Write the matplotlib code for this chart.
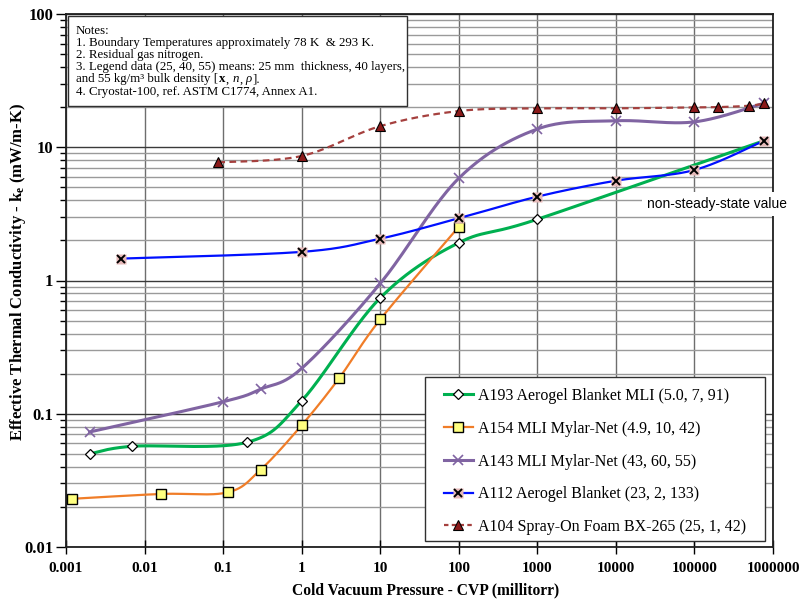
import numpy as np
import matplotlib
matplotlib.use('Agg')
import matplotlib.pyplot as plt
from matplotlib.lines import Line2D
from matplotlib.patches import Rectangle
from matplotlib.ticker import FixedLocator, FixedFormatter, NullFormatter, NullLocator
from matplotlib.legend_handler import HandlerTuple

plt.rcParams['mathtext.fontset'] = 'custom'
plt.rcParams['mathtext.rm'] = 'Liberation Serif'
plt.rcParams['mathtext.it'] = 'Liberation Serif:italic'
plt.rcParams['mathtext.bf'] = 'Liberation Serif:bold'

# ---------------- data ----------------
a193_x = [0.002, 0.007, 0.2, 1, 10, 100, 1000, 770000]
a193_y = [0.050, 0.057, 0.061, 0.125, 0.74, 1.92, 2.88, 11.2]

a154_x = [0.0012, 0.016, 0.114, 0.3, 1, 3, 10, 100]
a154_y = [0.023, 0.025, 0.0257, 0.038, 0.082, 0.185, 0.51, 2.53]

a143_x = [0.002, 0.1, 0.3, 1, 10, 100, 1000, 10000, 100000, 770000]
a143_y = [0.073, 0.123, 0.153, 0.219, 0.95, 5.85, 13.7, 15.8, 15.5, 21.4]

a112_x = [0.005, 1, 10, 100, 1000, 10000, 100000, 770000]
a112_y = [1.46, 1.64, 2.06, 2.93, 4.26, 5.61, 6.75, 11.2]

a104_x = [0.087, 1, 10, 100, 1000, 10000, 100000, 200000, 500000, 770000]
a104_y = [7.7, 8.6, 14.4, 18.7, 19.6, 19.6, 19.9, 20.0, 20.5, 21.3]

labels = ["A193 Aerogel Blanket MLI (5.0, 7, 91)",
          "A154 MLI Mylar-Net (4.9, 10, 42)",
          "A143 MLI Mylar-Net (43, 60, 55)",
          "A112 Aerogel Blanket (23, 2, 133)",
          "A104 Spray-On Foam BX-265 (25, 1, 42)"]

x_ticks = [0.001, 0.01, 0.1, 1, 10, 100, 1000, 10000, 100000, 1000000]
x_ticklabels = ["0.001", "0.01", "0.1", "1", "10", "100", "1000", "10000", "100000", "1000000"]
y_ticks = [0.01, 0.1, 1, 10, 100]
y_ticklabels = ["0.01", "0.1", "1", "10", "100"]

# each note line is a list of (text, weight, style) pieces
notes = [[("Notes:", 'normal', 'normal')],
         [("1. Boundary Temperatures approximately 78 K  & 293 K.", 'normal', 'normal')],
         [("2. Residual gas nitrogen.", 'normal', 'normal')],
         [("3. Legend data (25, 40, 55) means: 25 mm  thickness, 40 layers,", 'normal', 'normal')],
         [("and 55 kg/m³ bulk density [", 'normal', 'normal'), ("x", 'bold', 'normal'),
          (", ", 'normal', 'normal'), ("n", 'normal', 'italic'), (", ", 'normal', 'normal'),
          ("ρ", 'normal', 'italic'), ("].", 'normal', 'normal')],
         [("4. Cryostat-100, ref. ASTM C1774, Annex A1.", 'normal', 'normal')]]


def smooth(xs, ys, n=40):
    """Excel-like smoothed line (cubic Bezier / Catmull-Rom) in log-log space."""
    P = np.column_stack([np.log10(xs), np.log10(ys)])
    out = []
    t = np.linspace(0, 1, n)[:, None]
    for i in range(len(P) - 1):
        p0 = P[i - 1] if i > 0 else P[i]
        p1 = P[i]
        p2 = P[i + 1]
        p3 = P[i + 2] if i + 2 < len(P) else P[i + 1]
        c1 = p1 + (p2 - p0) / 6.0
        c2 = p2 - (p3 - p1) / 6.0
        seg = (1 - t) ** 3 * p1 + 3 * (1 - t) ** 2 * t * c1 + 3 * (1 - t) * t ** 2 * c2 + t ** 3 * p2
        out.append(seg if i == 0 else seg[1:])
    S = np.vstack(out)
    return 10 ** S[:, 0], 10 ** S[:, 1]


fig = plt.figure(figsize=(8.01, 6.0), dpi=100)
ax = fig.add_axes([66 / 801, 1 - 547 / 600, (773 - 66) / 801, (547 - 14) / 600])
ax.set_xscale('log')
ax.set_yscale('log')
ax.set_xlim(0.001, 1000000)
ax.set_ylim(0.01, 100)

# grid
ax.xaxis.set_major_locator(FixedLocator(x_ticks))
ax.xaxis.set_major_formatter(FixedFormatter(x_ticklabels))
ax.xaxis.set_minor_locator(NullLocator())
ax.yaxis.set_major_locator(FixedLocator(y_ticks))
ax.yaxis.set_major_formatter(FixedFormatter(y_ticklabels))
ymin = [m * 10.0 ** e for e in range(-2, 2) for m in range(2, 10)]
ax.yaxis.set_minor_locator(FixedLocator(ymin))
ax.yaxis.set_minor_formatter(NullFormatter())
ax.grid(which='major', axis='x', color='#6e6e6e', lw=1.0, zorder=0)
ax.grid(which='major', axis='y', color='#3a3a3a', lw=1.0, zorder=0)
ax.grid(which='minor', axis='y', color='#9a9a9a', lw=1.0, zorder=0)
ax.set_axisbelow(True)

for sp in ax.spines.values():
    sp.set_linewidth(1.3)
    sp.set_color('#202020')

ax.tick_params(axis='x', which='major', direction='inout', length=10, width=1.0, pad=6)
ax.tick_params(axis='y', which='major', direction='out', length=7, width=1.0, pad=2)
ax.tick_params(axis='y', which='minor', direction='out', length=4, width=1.0)
for lab in ax.get_xticklabels():
    lab.set_fontfamily('Liberation Serif')
    lab.set_fontweight('bold')
    lab.set_fontsize(11)
for lab in ax.get_yticklabels():
    lab.set_fontfamily('Liberation Serif')
    lab.set_fontweight('bold')
    lab.set_fontsize(12)

# series
c_green = '#00B050'
c_orange = '#F07D28'
c_purple = '#8064A2'
c_blue = '#0010FF'
c_brown = '#A5403E'

sx, sy = smooth(a193_x, a193_y)
ax.plot(sx, sy, color=c_green, lw=2.2, zorder=3)
ax.plot(a193_x[:-1], a193_y[:-1], ls='none', marker='D', ms=5, mfc='white', mec='black', mew=0.9, zorder=5)

sx, sy = smooth(a154_x, a154_y)
ax.plot(sx, sy, color=c_orange, lw=1.6, zorder=3)
ax.plot(a154_x, a154_y, ls='none', marker='s', ms=7, mfc='#FFFF80', mec='black', mew=1.0, zorder=5)

sx, sy = smooth(a143_x, a143_y)
ax.plot(sx, sy, color=c_purple, lw=2.2, zorder=3)
ax.plot(a143_x, a143_y, ls='none', marker='x', ms=7, mec=c_purple, mew=1.2, zorder=5)

sx, sy = smooth(a112_x, a112_y)
ax.plot(sx, sy, color=c_blue, lw=1.6, zorder=3)
ax.plot(a112_x, a112_y, ls='none', marker='s', ms=7, mfc='#E6B9B8', mec='none', zorder=5)
ax.plot(a112_x, a112_y, ls='none', marker='x', ms=6, mec='black', mew=1.4, zorder=6)

sx, sy = smooth(a104_x, a104_y)
ax.plot(sx, sy, color=c_brown, lw=1.6, ls=(0, (3, 2)), zorder=3)
ax.plot(a104_x, a104_y, ls='none', marker='^', ms=7, mfc='#8B1A1A', mec='black', mew=0.8, zorder=5)

# helpers: pixel -> axes fraction
ax_w, ax_h = 773 - 66, 547 - 14
def fx(px):
    return (px - 66) / ax_w
def fy(py):
    return (547 - py) / ax_h

# notes box
ax.add_patch(Rectangle((fx(68), fy(106)), fx(407) - fx(68), fy(16) - fy(106), transform=ax.transAxes,
                       facecolor='white', edgecolor='#303030', lw=1.0, zorder=7))
renderer = fig.canvas.get_renderer()
inv = ax.transAxes.inverted()
space_px = 2.6
for i, line in enumerate(notes):
    ybase = fy(33.5 + 12.2 * i)
    xd = ax.transAxes.transform((fx(76), 0))[0]
    for txt, wt, st in line:
        lead = txt.startswith(' ')
        core = txt.strip(' ') if len(line) > 1 else txt
        xa = inv.transform((xd, 0))[0]
        t = ax.text(xa, ybase, core, transform=ax.transAxes, ha='left', va='baseline',
                    family='Liberation Serif', fontsize=9.3, weight=wt, style=st, zorder=8)
        xd += t.get_window_extent(renderer).width + 0.6
        if txt.endswith(' '):
            xd += space_px

# legend box
ax.add_patch(Rectangle((fx(425), fy(541)), fx(765) - fx(425), fy(377) - fy(541), transform=ax.transAxes,
                       facecolor='white', edgecolor='#303030', lw=1.0, zorder=7))
h1 = Line2D([], [], color=c_green, lw=2.2, marker='D', ms=5, mfc='white', mec='black', mew=0.9)
h2 = Line2D([], [], color=c_orange, lw=1.6, marker='s', ms=7, mfc='#FFFF80', mec='black', mew=1.0)
h3 = Line2D([], [], color=c_purple, lw=2.2, marker='x', ms=7, mec=c_purple, mew=1.2)
h4a = Line2D([], [], color=c_blue, lw=1.6, marker='s', ms=7, mfc='#E6B9B8', mec='none')
h4b = Line2D([], [], ls='none', marker='x', ms=6, mec='black', mew=1.4)
h5 = Line2D([], [], color=c_brown, lw=1.6, ls=(0, (2, 1.5)), marker='^', ms=7, mfc='#8B1A1A', mec='black', mew=0.8)
leg = ax.legend([h1, h2, h3, (h4a, h4b), h5], labels,
                handler_map={tuple: HandlerTuple(ndivide=1, pad=0)},
                loc='upper left', bbox_to_anchor=(fx(444), fy(388)), borderaxespad=0, borderpad=0,
                frameon=False, handlelength=1.8, handletextpad=0.3, labelspacing=1.05,
                prop=dict(family='Liberation Serif', size=11.5))
leg.set_zorder(9)

# annotation
ax.text(fx(647), fy(204), 'non-steady-state value', transform=ax.transAxes, ha='left', va='center',
        family='Liberation Sans', fontsize=9.9, zorder=8, clip_on=False,
        bbox=dict(boxstyle='square,pad=0.35', facecolor='white', edgecolor='none'))

# axis labels
fig.text(426 / 801, 1 - 590 / 600, 'Cold Vacuum Pressure - CVP (millitorr)', ha='center', va='center',
         family='Liberation Serif', weight='bold', fontsize=11.2)
fig.text(18 / 801, 1 - 272 / 600, r'Effective Thermal Conductivity - k$_\mathbf{e}$ (mW/m-K)', ha='center', va='center',
         rotation=90, family='Liberation Serif', weight='bold', fontsize=12)

fig.savefig('out.png', dpi=100)
